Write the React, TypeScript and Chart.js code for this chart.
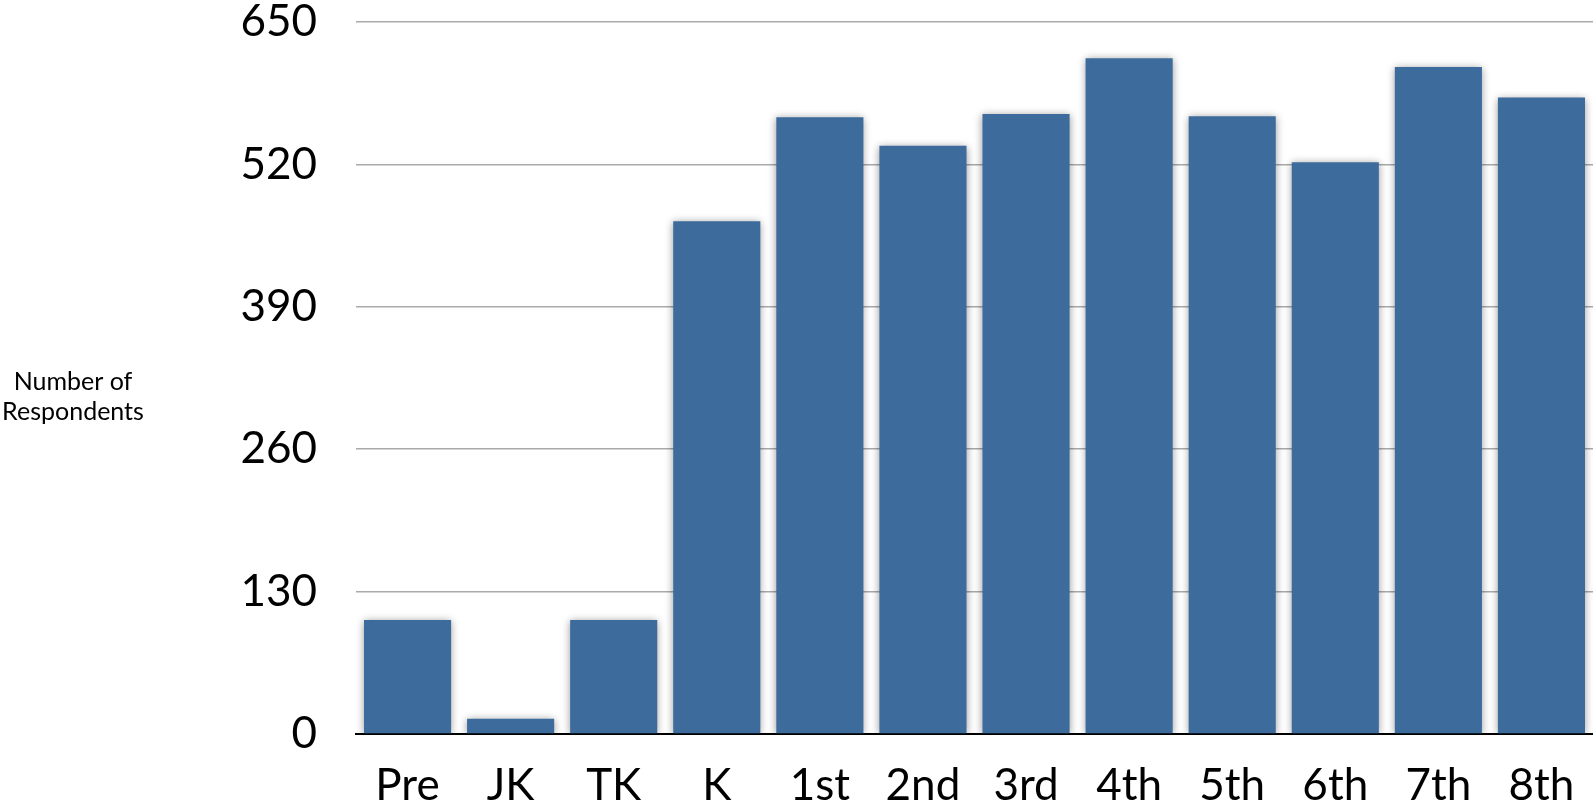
import React, { useEffect, useRef } from "react";
import { Chart, registerables } from "chart.js";

Chart.register(...registerables);

const categories = ["Pre", "JK", "TK", "K", "1st", "2nd", "3rd", "4th", "5th", "6th", "7th", "8th"];
const respondents = [104, 14, 104, 468, 563, 537, 566, 617, 564, 522, 609, 581];
const yTicks = [0, 130, 260, 390, 520, 650];
const yTitleLines = ["Number of", "Respondents"];

const FONT = "Lato, 'Open Sans', sans-serif";

const shadowPlugin = {
  id: "barShadow",
  beforeDatasetsDraw(chart: any) {
    const ctx = chart.ctx;
    ctx.save();
    ctx.shadowColor = "rgba(0,0,0,0.4)";
    ctx.shadowBlur = 8;
    ctx.shadowOffsetX = 0;
    ctx.shadowOffsetY = 1;
  },
  afterDatasetsDraw(chart: any) {
    chart.ctx.restore();
  },
};

const titlePlugin = {
  id: "yTitle",
  afterDraw(chart: any) {
    const ctx = chart.ctx;
    ctx.save();
    ctx.fillStyle = "#000";
    ctx.font = `25px ${FONT}`;
    ctx.textAlign = "center";
    ctx.textBaseline = "middle";
    yTitleLines.forEach((line, i) => {
      ctx.fillText(line, 73, 382 + i * 30);
    });
    ctx.restore();
  },
};

export default function App() {
  const canvasRef = useRef<HTMLCanvasElement | null>(null);

  useEffect(() => {
    document.body.style.margin = "0";
    const canvas = canvasRef.current;
    if (!canvas) return;
    const chart = new Chart(canvas, {
      type: "bar",
      data: {
        labels: categories,
        datasets: [
          {
            data: respondents,
            backgroundColor: "#3c6b9c",
            borderWidth: 0,
            categoryPercentage: 1,
            barPercentage: 0.845,
          },
        ],
      },
      options: {
        animation: false,
        responsive: false,
        maintainAspectRatio: false,
        layout: { padding: 0 },
        plugins: {
          legend: { display: false },
          tooltip: { enabled: false },
        },
        scales: {
          x: {
            grid: { display: false, drawTicks: false },
            border: { display: true, color: "#000", width: 2 },
            ticks: {
              color: "#000",
              font: { family: FONT, size: 44, lineHeight: 1.9 },
              padding: 10,
              maxRotation: 0,
              autoSkip: false,
            },
            afterFit(scale: any) {
              scale.height = 78;
            },
          },
          y: {
            min: 0,
            max: 650,
            afterBuildTicks(scale: any) {
              scale.ticks = yTicks.map((v) => ({ value: v }));
            },
            grid: {
              drawTicks: true,
              tickLength: 39,
              tickColor: "rgba(0,0,0,0)",
              color: (c: any) => (c.tick && c.tick.value === 0 ? "rgba(0,0,0,0)" : "#aaaaaa"),
              lineWidth: 1.5,
            },
            border: { display: false },
            ticks: {
              color: "#000",
              font: { family: FONT, size: 44, lineHeight: 1.0 },
              padding: 0,
            },
            afterFit(scale: any) {
              scale.width = 356;
            },
          },
        },
      },
      plugins: [shadowPlugin, titlePlugin],
    });
    return () => chart.destroy();
  }, []);

  return (
    <div style={{ width: 1593, height: 812 }}>
      <canvas ref={canvasRef} width={1593} height={812} style={{ display: "block" }} />
    </div>
  );
}
